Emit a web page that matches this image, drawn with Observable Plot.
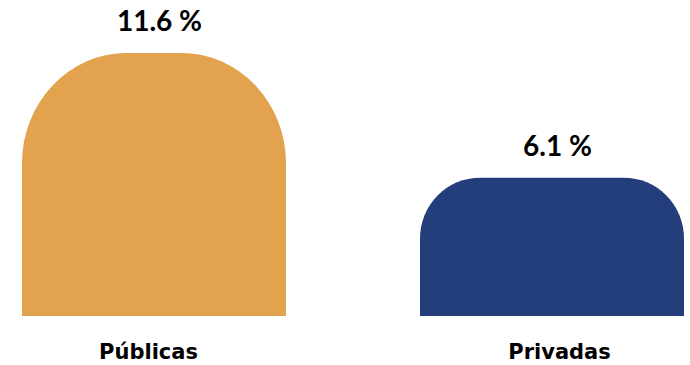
<!DOCTYPE html>
<html>
<head>
<meta charset="utf-8">
<script src="https://cdn.jsdelivr.net/npm/d3@7"></script>
<script src="https://cdn.jsdelivr.net/npm/@observablehq/plot@0.6"></script>
<style>
  html, body { margin: 0; padding: 0; background: #fff; }
  #chart { width: 690px; height: 365px; }
</style>
</head>
<body>
<div id="chart"></div>
<script>
const categories = ["Públicas", "Privadas"];
const values = [11.6, 6.1];
const valueLabels = ["11.6 %", "6.1 %"];
const colors = ["#E3A24D", "#243E7B"];

const data = categories.map((c, i) => ({category: c, value: values[i], label: valueLabels[i], color: colors[i]}));

const radii = [[105, 110], [60, 61]];
const labelShift = [-6, 7];

const barMarks = data.flatMap((d, i) => [
  Plot.barY([d], {x: "category", y: "value", fill: "color", rx: radii[i][0], ry: radii[i][1]}),
  Plot.barY([d], {x: "category", y1: 0, y2: r => r.value / 2, fill: "color"})
]);

const catMarks = data.map((d, i) =>
  Plot.text([d], {x: "category", y: 0, text: "category", dy: 36, dx: labelShift[i], fontSize: 21, fontWeight: "bold", fontFamily: "DejaVu Sans, sans-serif", fill: "#000", lineAnchor: "middle"})
);

const chart = Plot.plot({
  width: 690,
  height: 365,
  marginLeft: 22,
  marginRight: 5,
  marginTop: 53,
  marginBottom: 49,
  style: {fontFamily: "Lato, sans-serif", background: "#fff"},
  x: {domain: categories, paddingInner: 0.336, paddingOuter: 0, axis: null},
  y: {domain: [0, 11.6], axis: null},
  color: {type: "identity"},
  marks: [
    ...barMarks,
    Plot.text(data, {x: "category", y: "value", text: "label", dy: -31, dx: 5, fontSize: 28, fontWeight: "bold", fill: "#000", lineAnchor: "middle"}),
    ...catMarks
  ]
});
document.getElementById("chart").appendChild(chart);
</script>
</body>
</html>
